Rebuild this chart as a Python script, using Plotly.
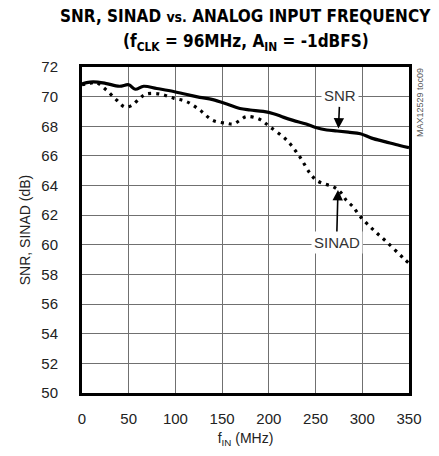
import plotly.graph_objects as go

# ---- data ----
snr_freq = [0, 5, 12, 25, 40, 50, 57, 66, 80, 98, 115, 126, 140, 155, 169, 180, 194, 205, 216, 226, 240, 251, 262, 273, 285, 298, 310, 325, 340, 350]
snr_db = [70.85, 70.95, 71.0, 70.9, 70.7, 70.8, 70.5, 70.7, 70.55, 70.35, 70.1, 69.95, 69.8, 69.5, 69.2, 69.1, 69.0, 68.85, 68.6, 68.4, 68.15, 67.9, 67.75, 67.68, 67.6, 67.5, 67.2, 66.95, 66.7, 66.55]

sinad_freq = [0, 8, 15, 26, 37, 46, 53, 62, 69, 83, 98, 112, 126, 140, 155, 162, 169, 176, 190, 201, 219, 233, 244, 251, 260, 269, 276, 283, 290, 298, 312, 326, 344, 350]
sinad_db = [70.8, 70.9, 70.95, 70.45, 69.77, 69.3, 69.4, 69.9, 70.18, 70.18, 69.9, 69.66, 69.1, 68.4, 68.2, 68.15, 68.4, 68.65, 68.47, 67.97, 67.07, 65.95, 64.83, 64.35, 64.1, 63.92, 63.6, 63.0, 62.57, 61.9, 61.0, 60.2, 59.1, 58.75]

x_ticks = [0, 50, 100, 150, 200, 250, 300, 350]
y_ticks = [50, 52, 54, 56, 58, 60, 62, 64, 66, 68, 70, 72]

title_line1 = "<b>SNR, SINAD <span style='font-size:14px'>vs.</span> ANALOG INPUT FREQUENCY</b>"
title_line2 = "<b>(f<sub>CLK</sub> = 96MHz, A<sub>IN</sub> = -1dBFS)</b>"

FONT = "Liberation Sans, Arial, sans-serif"
TFONT = "DejaVu Sans Condensed, Liberation Sans Narrow, sans-serif"

fig = go.Figure()
fig.add_trace(go.Scatter(x=snr_freq, y=snr_db, mode="lines", name="SNR",
                         line=dict(color="black", width=3.2), line_shape="spline"))
fig.add_trace(go.Scatter(x=sinad_freq, y=sinad_db, mode="lines", name="SINAD",
                         line=dict(color="black", width=3.2, dash="3px,5px"), line_shape="spline"))

fig.update_layout(
    width=439, height=456,
    margin=dict(l=82, r=30, t=67, b=63),
    paper_bgcolor="white", plot_bgcolor="white",
    showlegend=False,
    font=dict(family=FONT, color="#222", size=14),
    xaxis=dict(range=[0, 350], tickvals=x_ticks, showgrid=True, gridcolor="#707070", gridwidth=1.3,
               zeroline=False, showline=True, linecolor="black", linewidth=3, mirror=True,
               ticks="", ticklabelstandoff=10, tickfont=dict(size=15),
               title=dict(text="f<sub>IN</sub> (MHz)", font=dict(size=14), standoff=8)),
    yaxis=dict(range=[50, 72], tickvals=y_ticks, showgrid=True, gridcolor="#707070", gridwidth=1.3,
               zeroline=False, showline=True, linecolor="black", linewidth=3, mirror=True,
               ticks="", ticklabelstandoff=18, tickfont=dict(size=15),
               title=dict(text="SNR, SINAD (dB)", font=dict(size=14), standoff=8)),
)

fig.add_annotation(x=0.5, y=1.156, xref="paper", yref="paper", text=title_line1, showarrow=False,
                   xanchor="center", yanchor="middle", font=dict(family=TFONT, size=17, color="black"))
fig.add_annotation(x=0.5, y=1.074, xref="paper", yref="paper", text=title_line2, showarrow=False,
                   xanchor="center", yanchor="middle", font=dict(family=TFONT, size=17, color="black"))

fig.add_annotation(x=274.5, y=67.85, ax=276, ay=70.05, xref="x", yref="y", axref="x", ayref="y",
                   text="SNR", showarrow=True, arrowhead=2, arrowsize=1.3, arrowwidth=1.6,
                   arrowcolor="black", bgcolor="white", font=dict(size=15, color="#333"),
                   borderpad=2)
fig.add_annotation(x=274, y=63.7, ax=272.5, ay=60.15, xref="x", yref="y", axref="x", ayref="y",
                   text="SINAD", showarrow=True, arrowhead=2, arrowsize=1.3, arrowwidth=1.6,
                   arrowcolor="black", bgcolor="white", font=dict(size=15, color="#333"),
                   borderpad=2)
fig.add_annotation(x=1.034, y=0.89, xref="paper", yref="paper", text="MAX12529 toc09",
                   textangle=-90, showarrow=False, xanchor="center", yanchor="middle",
                   font=dict(size=9, color="#555"))

fig.write_html("out.html")
